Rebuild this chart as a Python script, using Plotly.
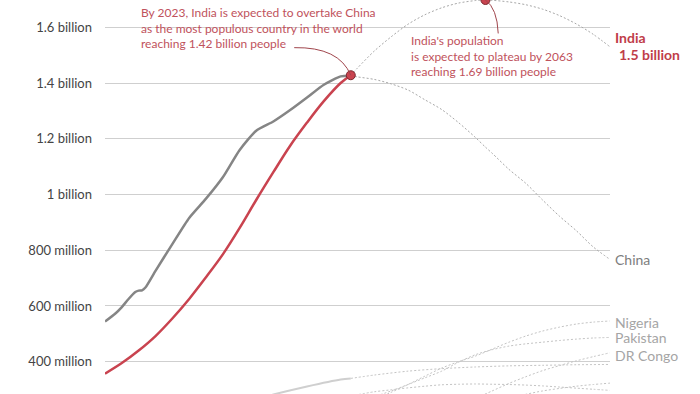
import plotly.graph_objects as go

# ---- data (population, millions) ----
india_hist_years = [1950, 1955, 1960, 1965, 1970, 1975, 1980, 1985, 1990, 1995, 2000, 2005, 2010, 2015, 2020, 2023]
india_hist = [357, 395, 440, 492, 555, 625, 703, 785, 880, 982, 1080, 1175, 1258, 1335, 1400, 1428]

china_hist_years = [1950, 1953, 1955, 1957, 1959, 1960, 1961, 1962, 1965, 1970, 1975, 1980, 1985, 1990, 1995, 2000, 2005, 2010, 2015, 2020, 2023]
china_hist = [544, 572, 596, 625, 650, 655, 656, 666, 726, 822, 916, 985, 1062, 1160, 1230, 1262, 1303, 1348, 1394, 1424, 1426]

proj_years = [2023, 2025, 2030, 2035, 2040, 2045, 2050, 2055, 2060, 2063, 2065, 2070, 2075, 2080, 2085, 2090, 2095, 2100]
india_proj = [1428, 1454, 1515, 1566, 1611, 1645, 1670, 1687, 1696, 1698, 1697, 1691, 1681, 1665, 1642, 1612, 1575, 1530]
china_proj = [1426, 1422, 1413, 1397, 1375, 1340, 1305, 1258, 1205, 1170, 1148, 1090, 1040, 980, 922, 870, 812, 767]

us_hist_years = [1950, 1960, 1970, 1980, 1990, 2000, 2010, 2020, 2023]
us_hist = [148, 186, 209, 229, 248, 282, 311, 336, 340]
us_proj_years = [2023, 2030, 2040, 2050, 2060, 2070, 2080, 2090, 2100]
us_proj = [340, 352, 366, 375, 381, 385, 387, 389, 390]

other_years = [2023, 2030, 2035, 2040, 2045, 2050, 2055, 2060, 2065, 2070, 2075, 2080, 2085, 2090, 2095, 2100]
nigeria = [223, 262, 290, 318, 348, 377, 400, 420, 445, 470, 492, 510, 524, 535, 542, 546]
pakistan = [240, 274, 295, 318, 342, 366, 398, 425, 443, 456, 464, 470, 476, 481, 485, 487]
drcongo = [102, 127, 143, 160, 178, 215, 242, 268, 295, 322, 346, 368, 386, 403, 418, 432]
ethiopia = [126, 149, 163, 177, 193, 213, 228, 245, 258, 270, 283, 295, 304, 312, 318, 323]
indonesia = [277, 292, 299, 306, 312, 317, 319, 320, 319, 318, 316, 313, 309, 305, 301, 297]

tick_vals = [400, 600, 800, 1000, 1200, 1400, 1600]
tick_text = ["400 million", "600 million", "800 million", "1 billion", "1.2 billion", "1.4 billion", "1.6 billion"]

RED = "#c9434f"
RED_TXT = "#c0525c"
DASH = "2px,2px"

fig = go.Figure()

# lighter projections
for ys in [indonesia, ethiopia, drcongo, pakistan, nigeria]:
    fig.add_trace(go.Scatter(x=other_years, y=ys, mode="lines",
                             line=dict(color="#c4c4c4", width=1, dash=DASH, shape="spline", smoothing=0.8),
                             hoverinfo="skip", showlegend=False))
fig.add_trace(go.Scatter(x=us_proj_years, y=us_proj, mode="lines",
                         line=dict(color="#c4c4c4", width=1, dash=DASH, shape="spline", smoothing=0.8),
                         hoverinfo="skip", showlegend=False))
fig.add_trace(go.Scatter(x=us_hist_years, y=us_hist, mode="lines",
                         line=dict(color="#cfcfcf", width=2, shape="spline", smoothing=0.8),
                         hoverinfo="skip", showlegend=False))

# China & India projections
fig.add_trace(go.Scatter(x=proj_years, y=china_proj, mode="lines",
                         line=dict(color="#a8a8a8", width=1, dash=DASH, shape="spline", smoothing=0.8),
                         hoverinfo="skip", showlegend=False))
fig.add_trace(go.Scatter(x=proj_years, y=india_proj, mode="lines",
                         line=dict(color="#a8a8a8", width=1, dash=DASH, shape="spline", smoothing=0.8),
                         hoverinfo="skip", showlegend=False))

# history
fig.add_trace(go.Scatter(x=china_hist_years, y=china_hist, mode="lines",
                         line=dict(color="#858585", width=2.5, shape="spline", smoothing=0.6),
                         hoverinfo="skip", showlegend=False))
fig.add_trace(go.Scatter(x=india_hist_years, y=india_hist, mode="lines",
                         line=dict(color=RED, width=2.5, shape="spline", smoothing=1),
                         hoverinfo="skip", showlegend=False))

# dots
peak_i = india_proj.index(max(india_proj))
fig.add_trace(go.Scatter(x=[india_hist_years[-1], proj_years[peak_i]],
                         y=[india_hist[-1], india_proj[peak_i]], mode="markers",
                         marker=dict(color=RED, size=9, line=dict(color="#7a2a30", width=1)),
                         cliponaxis=False, hoverinfo="skip", showlegend=False))

FONT = "Lato, 'Open Sans', sans-serif"

# connector curves
x0, y0 = india_hist_years[-1], india_hist[-1]
fig.add_shape(type="path", xref="x", yref="y",
              path=f"M 2006.2,1527 Q 2019.5,1530 {x0},{y0}",
              line=dict(color="#a0454c", width=1))
px_, py_ = proj_years[peak_i], india_proj[peak_i]
fig.add_shape(type="path", xref="x", yref="y",
              path=f"M {px_},{py_} Q 2066.5,1668 2066.8,1578",
              line=dict(color="#a0454c", width=1))

annotations = [
    dict(x=1960.1, y=1596, xanchor="left", yanchor="middle", align="left",
         text="By 2023, India is expected to overtake China<br>as the most populous country in the world<br>reaching 1.42 billion people",
         font=dict(family=FONT, size=12, color=RED_TXT), showarrow=False),
    dict(x=2040.2, y=1497, xanchor="left", yanchor="middle", align="left",
         text="India's population<br>is expected to plateau by 2063<br>reaching 1.69 billion people",
         font=dict(family=FONT, size=12, color=RED_TXT), showarrow=False),
    dict(x=2100, y=india_proj[-1], xanchor="left", yanchor="middle", xshift=3, yshift=9,
         text="<b>India</b>", font=dict(family=FONT, size=14, color="#bf3d49"), showarrow=False),
    dict(x=2100, y=india_proj[-1], xanchor="left", yanchor="middle", xshift=7, yshift=-8,
         text="<b>1.5 billion</b>", font=dict(family=FONT, size=14, color="#bf3d49"), showarrow=False),
    dict(x=2100, y=china_proj[-1], xanchor="left", yanchor="middle", xshift=3,
         text="China", font=dict(family=FONT, size=14, color="#7d7d7d"), showarrow=False),
    dict(x=2100, y=nigeria[-1], xanchor="left", yanchor="middle", xshift=3, yshift=-1,
         text="Nigeria", font=dict(family=FONT, size=14, color="#a5a5a5"), showarrow=False),
    dict(x=2100, y=pakistan[-1], xanchor="left", yanchor="middle", xshift=3,
         text="Pakistan", font=dict(family=FONT, size=14, color="#a5a5a5"), showarrow=False),
    dict(x=2100, y=drcongo[-1], xanchor="left", yanchor="middle", xshift=3, yshift=-3,
         text="DR Congo", font=dict(family=FONT, size=14, color="#a5a5a5"), showarrow=False),
]

fig.update_layout(
    width=700, height=394,
    margin=dict(l=105, r=90, t=0, b=0),
    paper_bgcolor="white", plot_bgcolor="white",
    font=dict(family=FONT),
    annotations=annotations,
    xaxis=dict(range=[1950, 2100], visible=False, showgrid=False, zeroline=False),
    yaxis=dict(range=[284, 1698], tickvals=tick_vals, ticktext=tick_text,
               showgrid=True, gridcolor="#cfcfcf", gridwidth=1, zeroline=False,
               showline=False, ticks="", ticklabelstandoff=12,
               tickfont=dict(family=FONT, size=13, color="#444444")),
)

fig.write_html("out.html", config={"displayModeBar": False},
               post_script="document.body.style.margin='0';")
